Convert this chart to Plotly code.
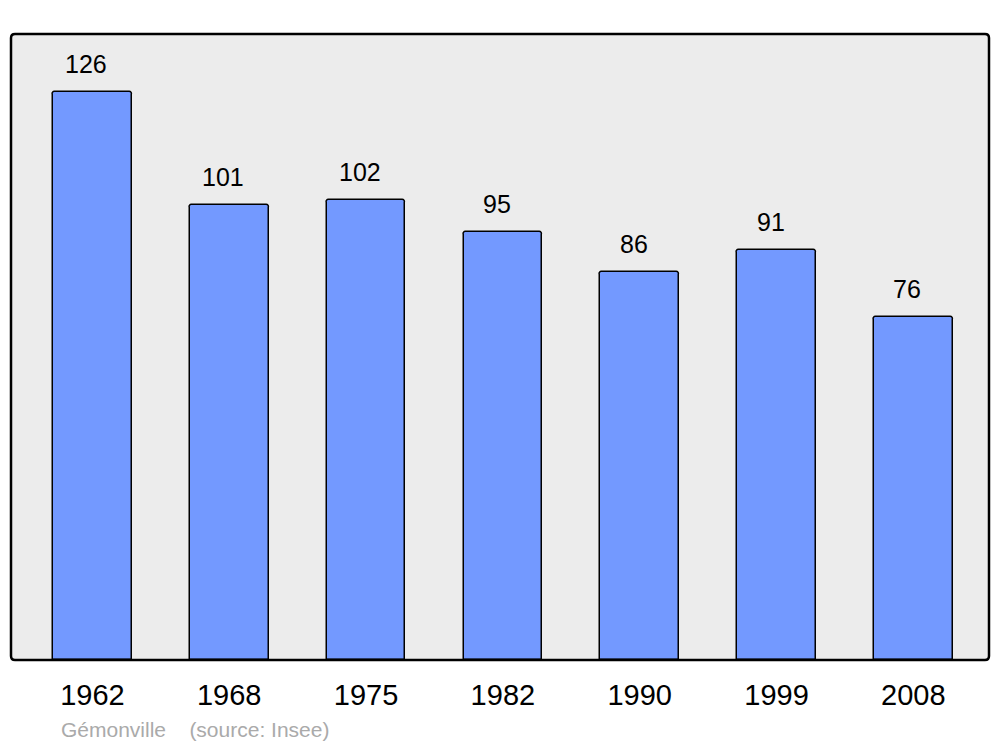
import plotly.graph_objects as go

years = ["1962", "1968", "1975", "1982", "1990", "1999", "2008"]
population = [126, 101, 102, 95, 86, 91, 76]
place = "Gémonville"
source = "(source: Insee)"

xpos = list(range(len(years)))

# page has 8px body margin; compensate
FW, FH = 992, 739
ML, MR, MT, MB = 3, 11, 26, 87
W, H = FW - ML - MR, FH - MT - MB  # plot area size (978 x 626)

fig = go.Figure()
fig.add_trace(go.Bar(
    x=xpos, y=population, width=0.575,
    marker=dict(color="#7399FF", line=dict(color="black", width=1.5), cornerradius=3),
    hoverinfo="skip",
))

for xi, v in zip(xpos, population):
    fig.add_annotation(x=xi, y=v, text=str(v), showarrow=False, xref="x", yref="y",
                       yanchor="middle", yshift=28, xshift=-6,
                       font=dict(family="Liberation Sans, Arial", size=25, color="black"))

# frame with rounded corners (paper coords = plot area)
rx, ry = 4 / W, 4 / H
path = (f"M {rx},0 L {1-rx},0 Q 1,0 1,{ry} L 1,{1-ry} Q 1,1 {1-rx},1 "
        f"L {rx},1 Q 0,1 0,{1-ry} L 0,{ry} Q 0,0 {rx},0 Z")
fig.add_shape(type="path", path=path, xref="paper", yref="paper",
              line=dict(color="black", width=2.5), layer="above")

fig.add_annotation(
    x=(59 - 11) / W, y=1 - (729 - 34) / H, xref="paper", yref="paper",
    xanchor="left", yanchor="middle", showarrow=False,
    text=place + "&nbsp;&nbsp;&nbsp;&nbsp;" + source,
    font=dict(family="Liberation Sans, Arial", size=21, color="#AAAAAA"))

fig.update_layout(
    width=FW, height=FH,
    margin=dict(l=ML, r=MR, t=MT, b=MB),
    paper_bgcolor="white", plot_bgcolor="#ECECEC",
    showlegend=False, bargap=0,
    xaxis=dict(range=[-0.595, 6.553], tickmode="array", tickvals=xpos, ticktext=years,
               showgrid=False, zeroline=False, showline=False,
               ticks="outside", ticklen=9, tickcolor="rgba(0,0,0,0)",
               tickfont=dict(family="Liberation Sans, Arial", size=29, color="black"),
               fixedrange=True),
    yaxis=dict(range=[0, 138.9], showgrid=False, zeroline=False, showline=False,
               showticklabels=False, ticks="", fixedrange=True),
)

fig.write_html("out.html")
